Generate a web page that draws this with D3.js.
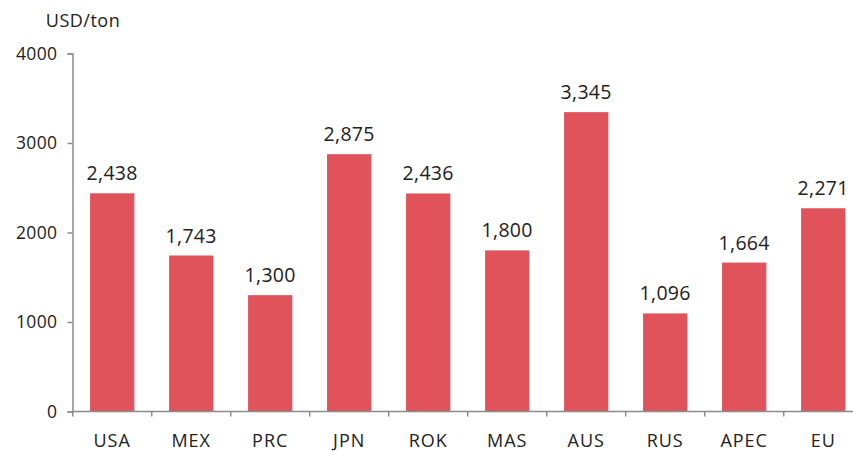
<!DOCTYPE html>
<html>
<head>
<meta charset="utf-8">
<script src="https://cdn.jsdelivr.net/npm/d3@7"></script>
<style>
  body { margin: 0; background: #fff; }
  text { font-family: "Open Sans", sans-serif; fill: #222; }
</style>
</head>
<body>
<svg id="chart" width="853" height="451"></svg>
<script>
// chart data
const categories = ["USA", "MEX", "PRC", "JPN", "ROK", "MAS", "AUS", "RUS", "APEC", "EU"];
const values = [2438, 1743, 1300, 2875, 2436, 1800, 3345, 1096, 1664, 2271];
const yTicks = [0, 1000, 2000, 3000, 4000];
const unitLabel = "USD/ton";

const svg = d3.select("#chart");
const barColor = "#e0535a";
const axisColor = "#8c8c8c";

// the plot runs past the right edge of the picture, like the original
const x = d3.scaleBand()
  .domain(categories)
  .range([72.7, 862.7])
  .paddingInner(0.44)
  .paddingOuter(0.22);

const y = d3.scaleLinear()
  .domain([0, 4000])
  .range([411.5, 53.5]);

// bars
svg.append("g")
  .selectAll("rect")
  .data(values)
  .join("rect")
  .attr("x", (d, i) => x(categories[i]))
  .attr("y", d => y(d))
  .attr("width", x.bandwidth())
  .attr("height", d => y(0) - y(d))
  .attr("fill", barColor);

// value labels
svg.append("g")
  .selectAll("text")
  .data(values)
  .join("text")
  .attr("x", (d, i) => x(categories[i]) + x.bandwidth() / 2)
  .attr("y", d => y(d) - 13)
  .attr("text-anchor", "middle")
  .style("font-size", "19.5px")
  .style("letter-spacing", "0.3px")
  .text(d => d3.format(",")(d));

// y axis
const yAxis = svg.append("g")
  .attr("transform", "translate(72.5,0)")
  .call(d3.axisLeft(y).tickValues(yTicks).tickSize(5).tickPadding(10).tickFormat(d3.format("d")));
yAxis.select(".domain").attr("stroke", axisColor).attr("stroke-width", 1.5);
yAxis.selectAll(".tick line").attr("stroke", axisColor).attr("stroke-width", 1.5);
yAxis.selectAll(".tick text")
  .style("font-size", "17.5px")
  .style("letter-spacing", "0.4px")
  .attr("fill", "#222");

// x axis: ticks sit between the categories
const step = x.step();
const x0 = x.range()[0];
const xAxis = svg.append("g");
xAxis.append("line")
  .attr("x1", x0).attr("x2", x.range()[1])
  .attr("y1", y(0)).attr("y2", y(0))
  .attr("stroke", axisColor).attr("stroke-width", 1.5);
xAxis.selectAll("line.tick")
  .data(d3.range(categories.length + 1))
  .join("line")
  .attr("class", "tick")
  .attr("x1", i => x0 + i * step).attr("x2", i => x0 + i * step)
  .attr("y1", y(0)).attr("y2", y(0) + 5)
  .attr("stroke", axisColor).attr("stroke-width", 1.5);
xAxis.selectAll("text")
  .data(categories)
  .join("text")
  .attr("x", d => x(d) + x.bandwidth() / 2)
  .attr("y", 446.5)
  .attr("text-anchor", "middle")
  .style("font-size", "18px")
  .style("letter-spacing", "1px")
  .text(d => d);

// unit label
svg.append("text")
  .attr("x", 83)
  .attr("y", 26.5)
  .attr("text-anchor", "middle")
  .style("font-size", "18px")
  .style("letter-spacing", "0.5px")
  .text(unitLabel);
</script>
</body>
</html>
